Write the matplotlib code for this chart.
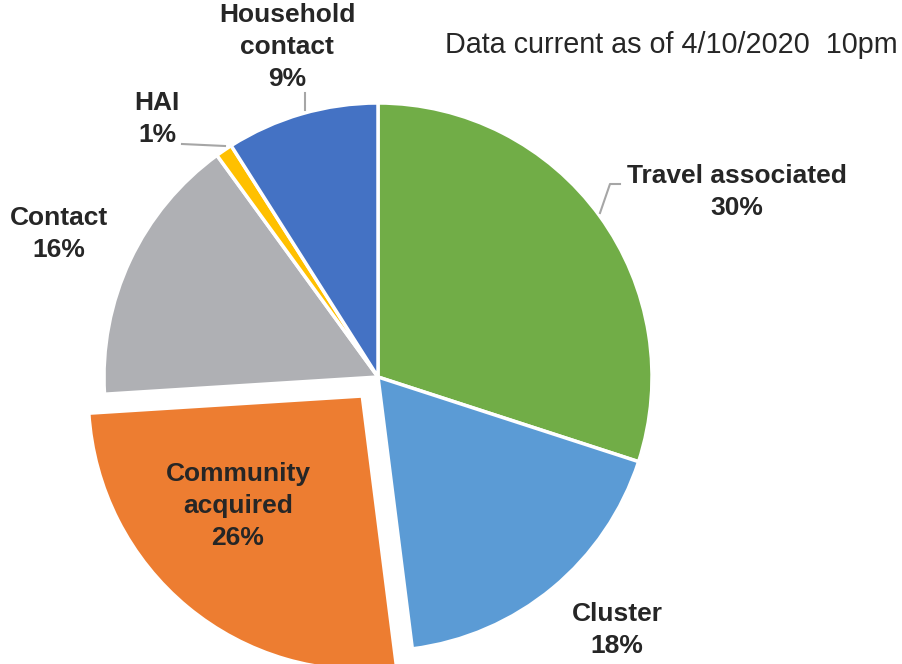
import matplotlib
matplotlib.use("Agg")
from matplotlib import pyplot as plt

# slices, clockwise from 12 o'clock
labels = ["Travel associated", "Cluster", "Community\nacquired", "Contact", "HAI", "Household\ncontact"]
shares = [30, 18, 26, 16, 1, 9]
colors = ["#71AD47", "#5B9BD5", "#ED7D31", "#AFB0B4", "#FFC000", "#4472C4"]
explode = [0, 0, 0.09, 0, 0, 0]

# label positions in pixel space (x from left, y from top)
label_pos = [(737, 192), (617, 630), (238, 506), (59, 234), (157, 119), (287, 47)]

W, H = 903, 664
R = 274
plt.rcParams['font.family'] = ['Liberation Sans', 'DejaVu Sans']

fig = plt.figure(figsize=(W / 100, H / 100), dpi=100)
ax = fig.add_axes([0, 0, 1, 1])

# pie() offsets exploded wedges in data units, so scale by radius
ax.pie(shares, colors=colors, explode=[e * R for e in explode], startangle=90,
       counterclock=False, center=(378, H - 377), radius=R,
       wedgeprops=dict(edgecolor="white", linewidth=2.5))
ax.set_xlim(0, W)
ax.set_ylim(0, H)
ax.set_aspect("equal")
ax.axis("off")

for lab, val, (px, py) in zip(labels, shares, label_pos):
    ax.text(px, H - py, f"{lab}\n{val}%", ha="center", va="center",
            fontsize=19, fontweight="bold", color="#262626", linespacing=1.4)

# leader lines
lc = "#A6A6A6"
ax.plot([305, 305], [H - 93, H - 110], color=lc, lw=1.5)
ax.plot([182, 225], [H - 144, H - 146], color=lc, lw=1.5)
ax.plot([600, 610, 620], [H - 213, H - 184, H - 184], color=lc, lw=1.5)

ax.text(445, H - 45, "Data current as of 4/10/2020  10pm", ha="left", va="center",
        fontsize=20.7, color="#262626")

fig.savefig("out.png", dpi=100)
